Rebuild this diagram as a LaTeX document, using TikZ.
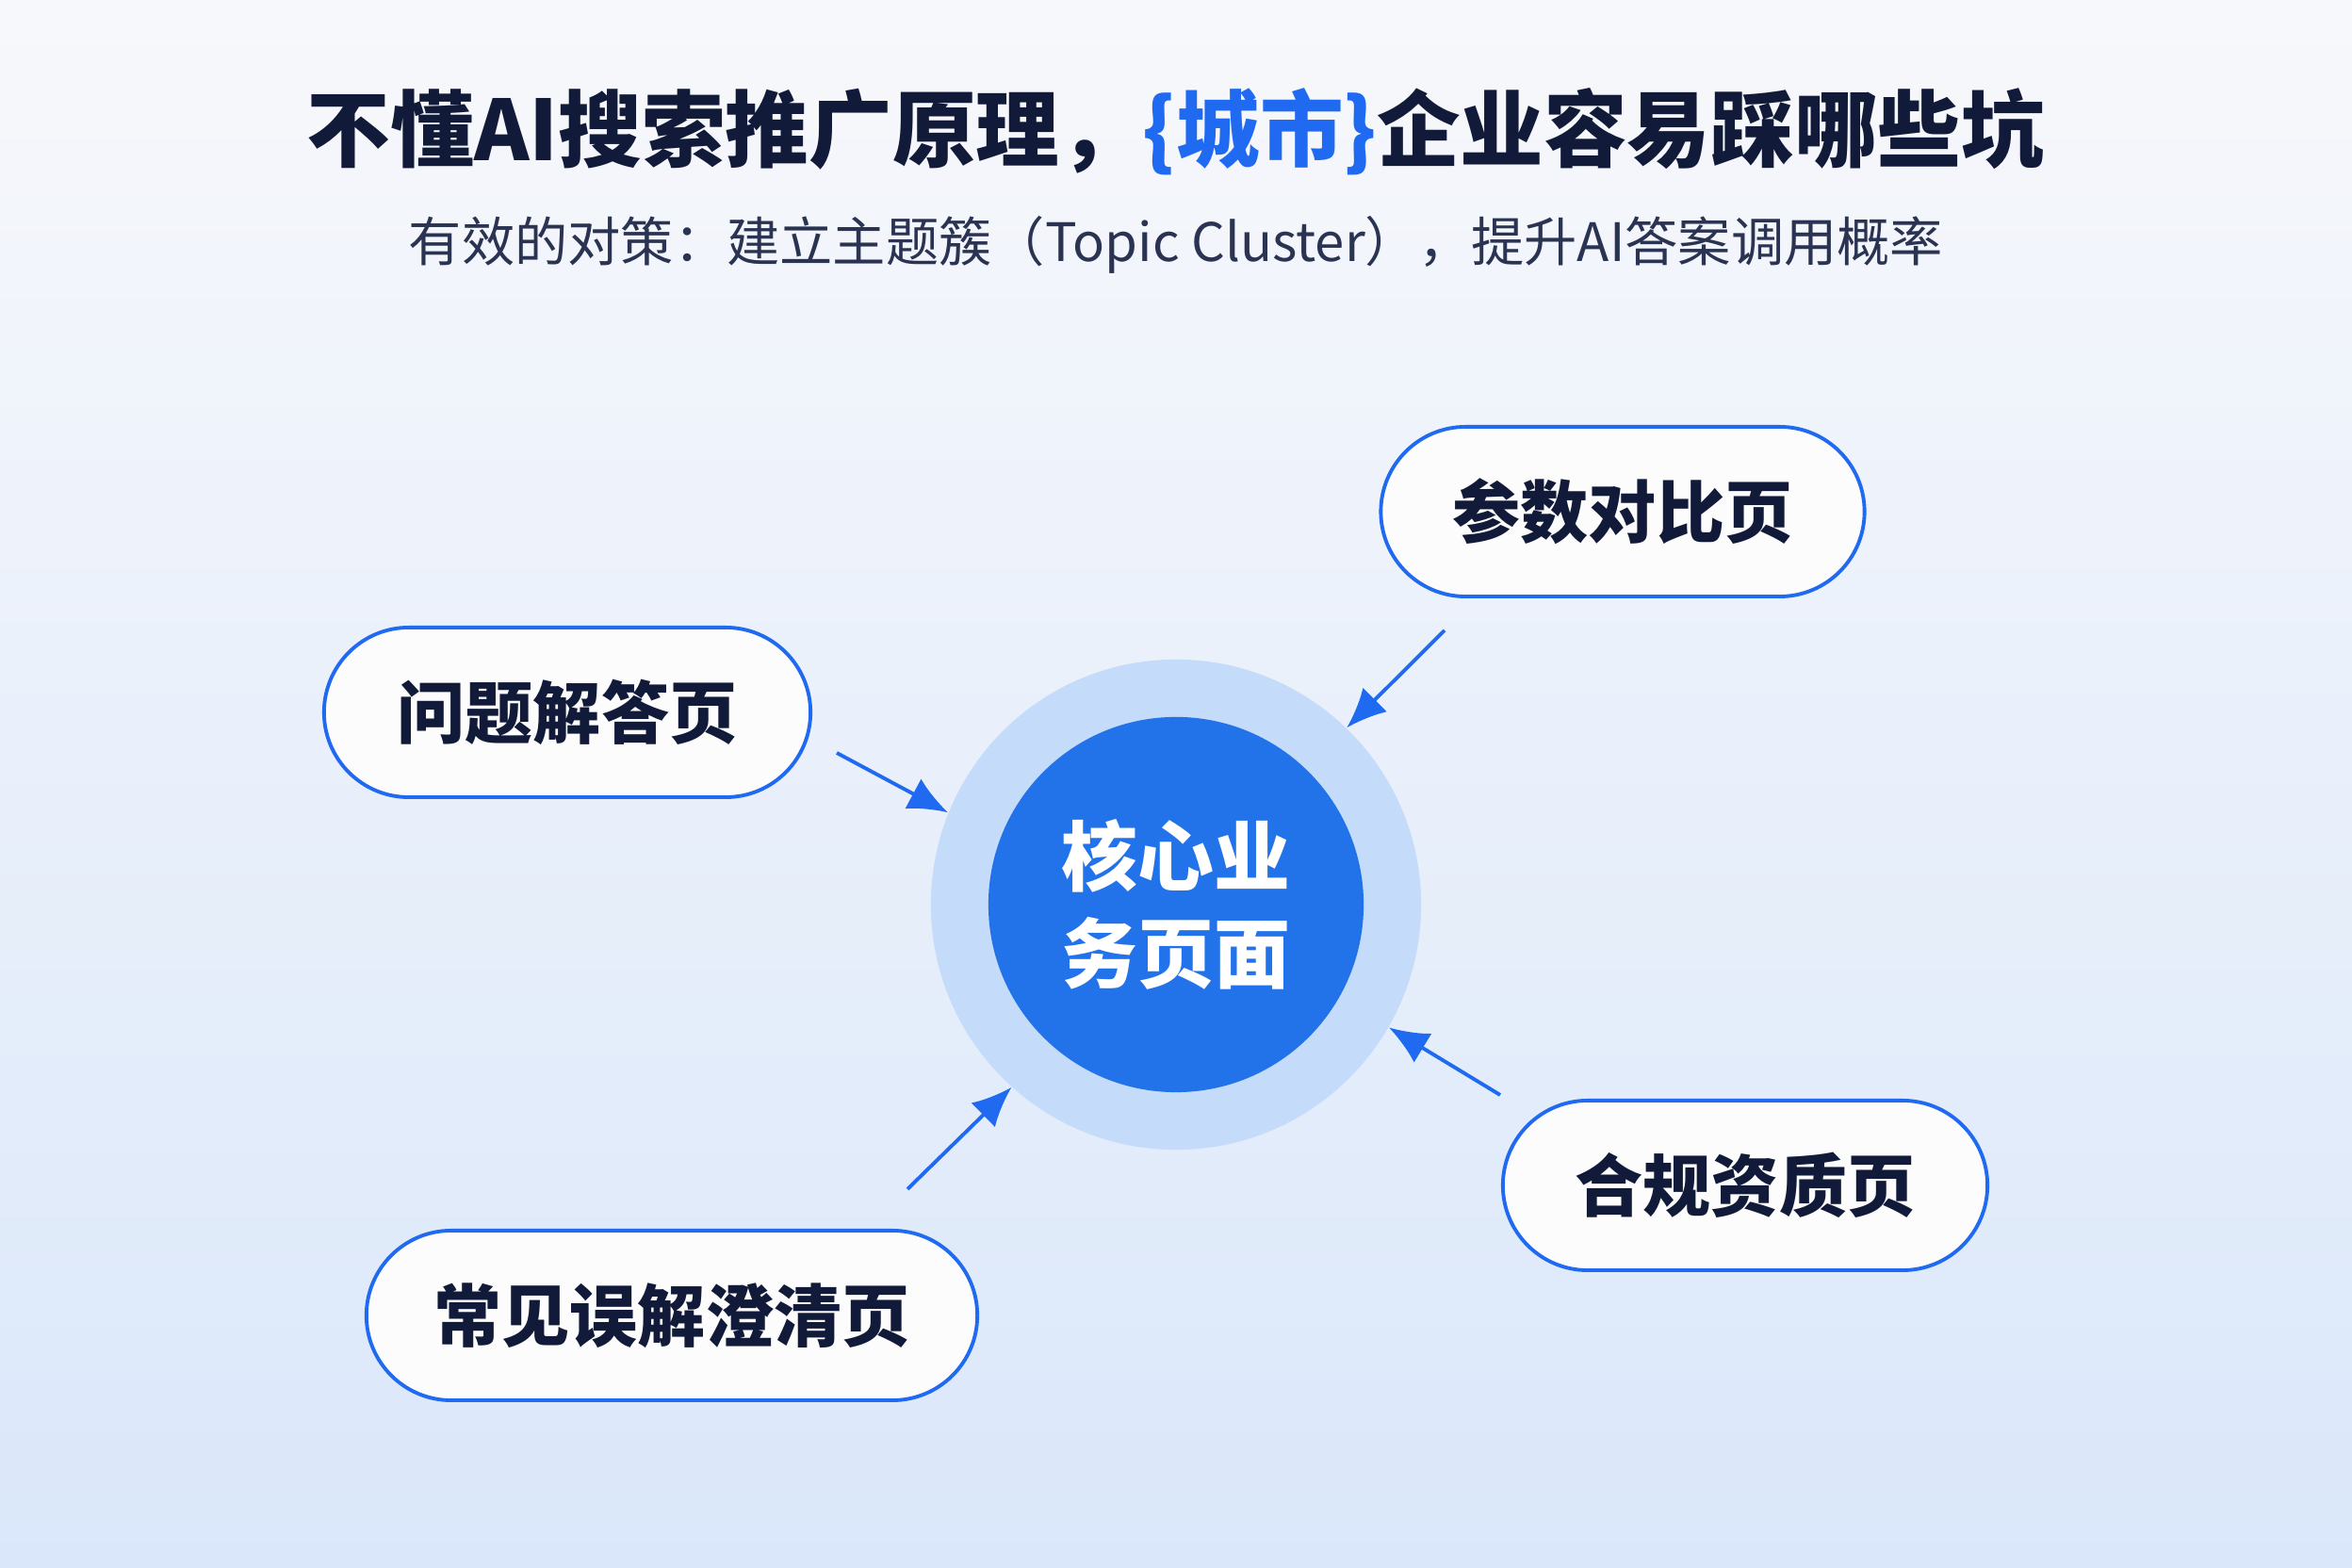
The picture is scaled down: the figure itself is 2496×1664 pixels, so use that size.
\documentclass[tikz,border=0pt]{standalone}
\usepackage{fontspec}
\usepackage{xcolor}
\usepackage{tikz}
\usetikzlibrary{arrows.meta,positioning}
\newfontfamily\cjk{Noto Sans CJK SC}
\setmainfont{Noto Sans CJK SC}

\definecolor{navy}{HTML}{111A38}
\definecolor{subgray}{HTML}{2A3452}
\definecolor{accent}{HTML}{1F6AF0}
\definecolor{core}{HTML}{2272EA}
\definecolor{halo}{HTML}{C4DBFA}
\definecolor{bgtop}{HTML}{F7F8FB}
\definecolor{bgbot}{HTML}{DAE7FA}

\tikzset{
  pill/.style={draw=accent, line width=1.1pt, fill=white!60!bgtop, rounded corners=0.9cm,
    minimum height=1.8cm, inner sep=0pt, text=navy, font=\cjk\fontsize{20.5}{24}\selectfont\bfseries},
  arr/.style={-{Latex[length=0.42cm,width=0.36cm]}, accent, line width=1.1pt}
}

\begin{document}
\begin{tikzpicture}[x=0.01cm,y=0.01cm]

  % background
  \shade[top color=bgtop, bottom color=bgbot] (0,0) rectangle (2496,1664);
  \useasboundingbox (0,0) rectangle (2496,1664);

  % heading
  \node[text=navy, font=\cjk\fontsize{25.2}{29}\selectfont\bfseries] (title) at (1248,1524)
    {不懂AI搜索推广原理，\textcolor{accent}{\{城市\}}企业容易踩哪些坑};
  \node[text=subgray, font=\cjk\fontsize{16}{19}\selectfont] (subtitle) at (1248,1404)
    {有效的对策：建立主题簇（Topic Cluster），提升AI答案调用概率};

  % core page
  \node[circle, fill=halo, minimum size=5.2cm, inner sep=0pt] (halo) at (1248,704) {};
  \node[circle, fill=core, minimum size=3.98cm, inner sep=0pt, text=white, align=center,
    font=\cjk\fontsize{23}{29.5}\selectfont\bfseries] (core) at (1248,704) {核心业\\务页面};

  % cluster pages
  \node[pill, minimum width=5.13cm] (compare) at (1722,1121) {参数对比页};
  \node[pill, minimum width=5.16cm] (answer) at (602,908) {问题解答页};
  \node[pill, minimum width=5.14cm] (license) at (1852,406) {合规资质页};
  \node[pill, minimum width=6.48cm] (myth) at (713,268) {常见误解澄清页};

  % arrow tails
  \coordinate (s1) at (1533,995);
  \coordinate (s2) at (888,865);
  \coordinate (s3) at (1592,502);
  \coordinate (s4) at (963,402);

  \draw[arr] (s1) -- (halo.46);
  \draw[arr] (s2) -- (halo.158);
  \draw[arr] (s3) -- (halo.-30);
  \draw[arr] (s4) -- (halo.228);

\end{tikzpicture}
\end{document}
